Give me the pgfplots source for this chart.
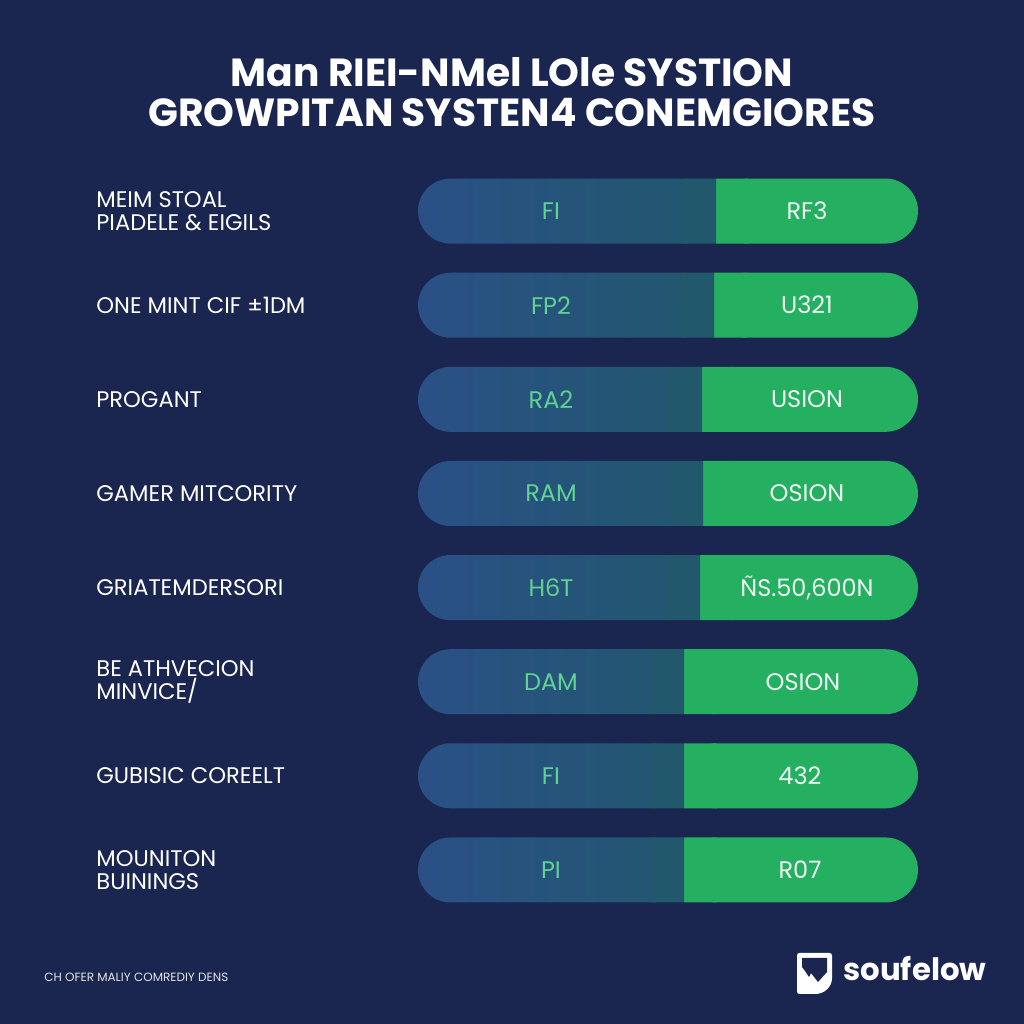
\documentclass[border=0pt]{standalone}
\usepackage{fontspec}
\setmainfont{Poppins}
\usepackage{pgfplots}
\pgfplotsset{compat=1.18}
\usepackage{pgfplotstable}

\definecolor{bgnavy}{RGB}{26,38,80}
\definecolor{barBlueL}{RGB}{42,80,134}
\definecolor{barBlueR}{RGB}{33,88,108}
\definecolor{barGreen}{RGB}{36,176,96}
\definecolor{labGreen}{RGB}{96,210,148}
\definecolor{labWhite}{RGB}{238,246,242}

\tikzset{
  lablft/.style={font=\fontsize{11.3}{11.5}\selectfont, text=white, anchor=west, align=left, inner sep=0pt},
  labblue/.style={font=\fontsize{12}{13}\selectfont, text=labGreen},
  labgrn/.style={font=\fontsize{12}{13}\selectfont, text=labWhite},
}

% left / right part of each bar, in % of the full bar
\pgfplotstableread{
row left right
1 59.6 40.4
2 59.2 40.8
3 56.8 43.2
4 57.0 43.0
5 56.4 43.6
6 53.2 46.8
7 53.2 46.8
8 53.2 46.8
}\splits

\pgfplotsset{
  barframe/.style={
    at={(209pt,53.5pt)}, anchor=south west,
    scale only axis, width=250pt, height=376.5pt,
    xmin=0, xmax=100, ymin=0.5, ymax=8.5, y dir=reverse,
    hide axis, clip=false,
    xbar stacked, bar width=32.5pt,
  },
}

\begin{document}
\begin{tikzpicture}[x=1pt,y=1pt]
\fill[bgnavy] (0,0) rectangle (512,512);

\node[font=\bfseries\fontsize{19.6}{20}\selectfont, text=white, align=center]
  at (256,466) {Man RIEI-NMel LOle SYSTION\\GROWPITAN SYSTEN4 CONEMGIORES};

\begin{axis}[barframe]
\addplot[draw=none, left color=barBlueL, right color=barBlueR, rounded corners=16.25pt] table[x=left,y=row]{\splits};
\addplot[draw=none, fill=barGreen, rounded corners=16.25pt] table[x=right,y=row]{\splits};
\end{axis}

% square off the join between the two parts
\begin{axis}[barframe]
\addplot[draw=none, fill=none] table[x expr=\thisrow{left}-6.5,y=row]{\splits};
\addplot[draw=none, fill=barBlueR] table[x expr=6.5,y=row]{\splits};
\addplot[draw=none, fill=barGreen] table[x expr=6.5,y=row]{\splits};

\node[lablft] at (axis cs:-64.4,1) {MEIM STOAL\\PIADELE \& EIGILS};
\node[lablft] at (axis cs:-64.4,2) {ONE MINT CIF ±1DM};
\node[lablft] at (axis cs:-64.4,3) {PROGANT};
\node[lablft] at (axis cs:-64.4,4) {GAMER MITCORITY};
\node[lablft] at (axis cs:-64.4,5) {GRIATEMDERSORI};
\node[lablft] at (axis cs:-64.4,6) {BE ATHVECION\\MINVICE/};
\node[lablft] at (axis cs:-64.4,7) {GUBISIC COREELT};
\node[lablft] at (axis cs:-64.4,8) {MOUNITON\\BUININGS};

\node[labblue] at (axis cs:26.6,1) {FI};
\node[labblue] at (axis cs:26.6,2) {FP2};
\node[labblue] at (axis cs:26.6,3) {RA2};
\node[labblue] at (axis cs:26.6,4) {RAM};
\node[labblue] at (axis cs:26.6,5) {H6T};
\node[labblue] at (axis cs:26.6,6) {DAM};
\node[labblue] at (axis cs:26.6,7) {FI};
\node[labblue] at (axis cs:26.6,8) {PI};

\node[labgrn] at (axis cs:77.8,1) {RF3};
\node[labgrn] at (axis cs:77.8,2) {U321};
\node[labgrn] at (axis cs:77.8,3) {USION};
\node[labgrn] at (axis cs:77.8,4) {OSION};
\node[labgrn] at (axis cs:77.8,5) {ÑS.50,600N};
\node[labgrn] at (axis cs:77.0,6) {OSION};
\node[labgrn] at (axis cs:76.4,7) {432};
\node[labgrn] at (axis cs:76.4,8) {R07};
\end{axis}

% footer
\node[anchor=west, inner sep=0pt, font=\fontsize{6}{7}\selectfont, text=white!88!bgnavy] at (22,23.5) {CH OFER MALIY COMREDIY DENS};
\fill[white, rounded corners=1.2pt] (398.5,15) -- (398.5,35.5) -- (416,35.5) -- (416,24) .. controls (416,18.5) and (412,15) .. (406.5,15) -- cycle;
\fill[bgnavy] (401,28.5) -- (401,33) -- (413.5,33) -- (413.5,26) -- (409,21) -- (405.5,25.5) -- (404.5,23.5) -- (402.5,26.5) -- cycle;
\node[anchor=west, inner sep=0pt, font=\bfseries\fontsize{15.4}{17}\selectfont, text=white] at (421.5,27.5) {soufelow};
\end{tikzpicture}
\end{document}
